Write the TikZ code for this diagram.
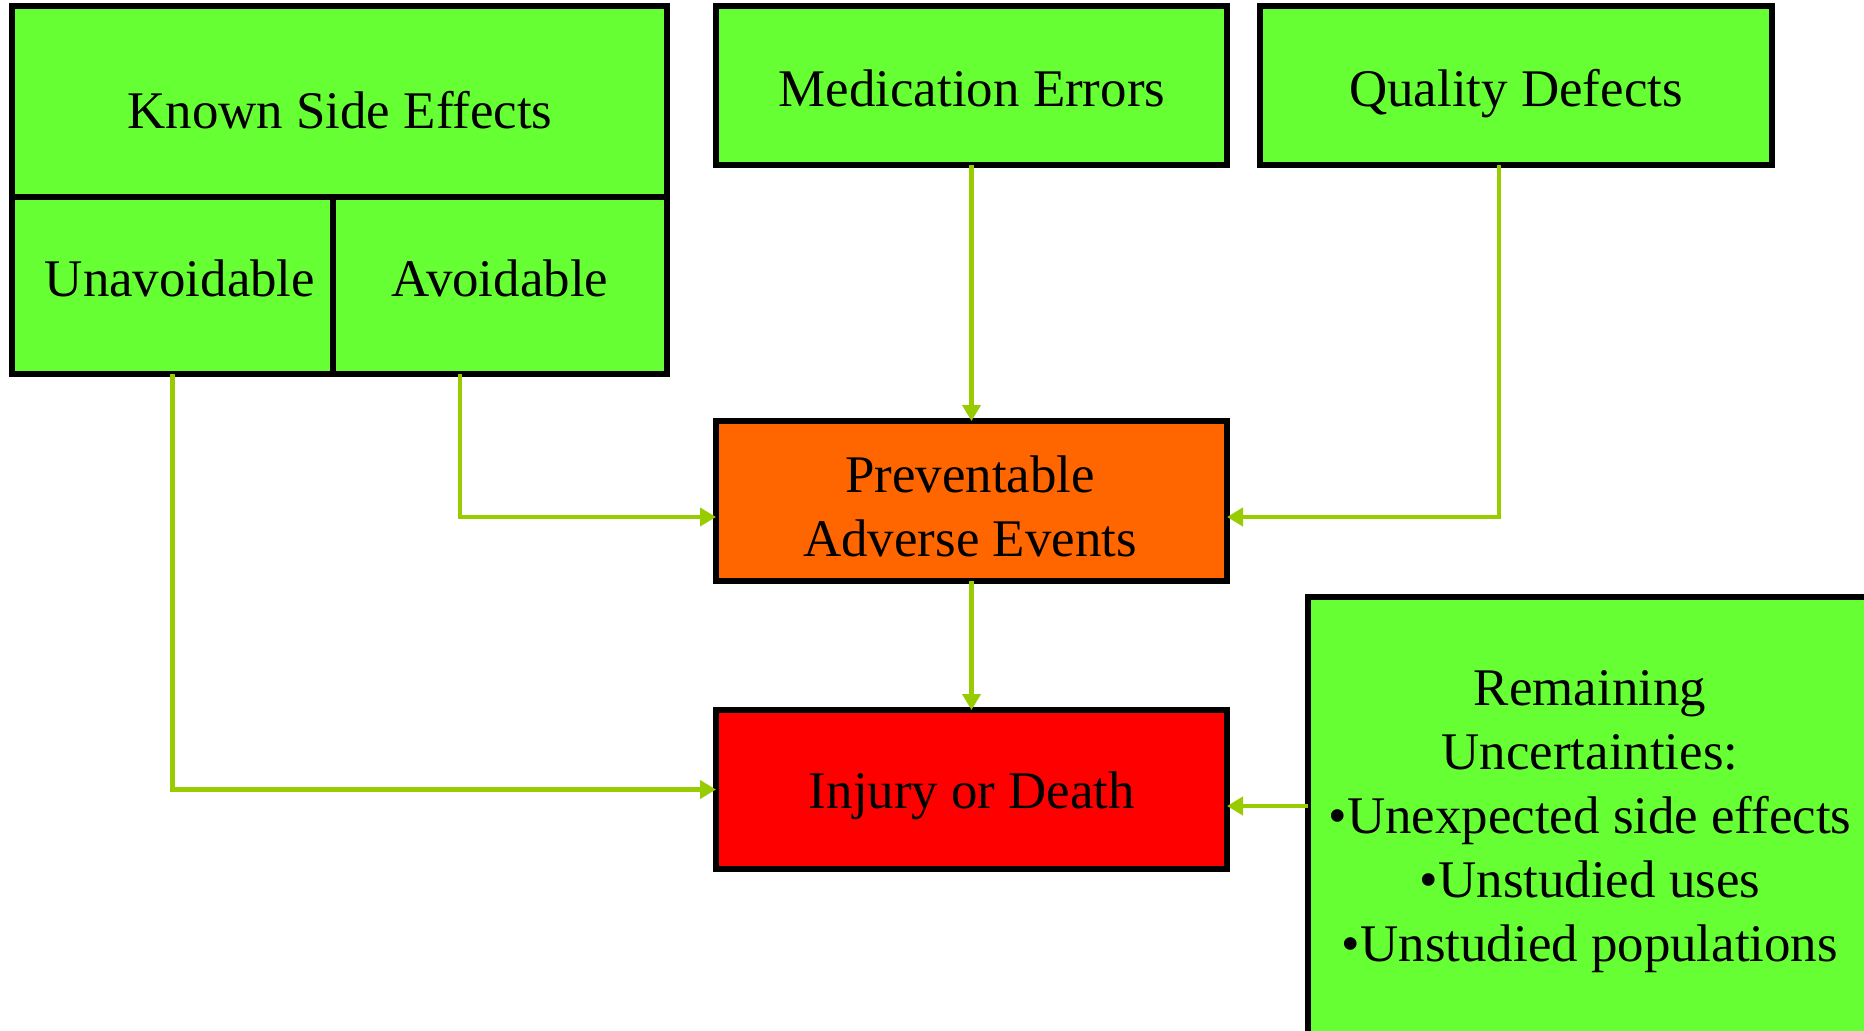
\documentclass[tikz,border=0pt]{standalone}
\usepackage{fontspec}
\setmainfont{Liberation Serif}
\usetikzlibrary{arrows.meta}
\definecolor{boxgreen}{HTML}{66FF33}
\definecolor{boxorange}{HTML}{FF6600}
\definecolor{boxred}{HTML}{FF0000}
\definecolor{linkgreen}{HTML}{99CC00}
\begin{document}
\begin{tikzpicture}[x=0.5pt,y=-0.5pt,
  box/.style={draw=black, line width=2.6pt, inner sep=0pt, outer sep=0pt},
  cell/.style={box, fill=boxgreen},
  lbl/.style={inner sep=0pt, font=\fontsize{26.45pt}{32pt}\selectfont, align=center},
  conn/.style={draw=linkgreen, line width=2.2pt, -{Triangle[length=8pt,width=9pt]}}]
  \fill[white] (0,0) rectangle (1864,1030);
  \useasboundingbox (0,0) rectangle (1864,1030);

  % Known side effects, split into two cells underneath
  \node[cell, minimum width=327.5pt, minimum height=95.5pt] (known) at (339.5,101.5) {};
  \node[cell, minimum width=160.5pt, minimum height=88.5pt] (unav) at (172.5,285.5) {};
  \node[cell, minimum width=167pt, minimum height=88.5pt] (avoid) at (500,285.5) {};

  % Other source boxes
  \node[cell, minimum width=255.5pt, minimum height=79.5pt] (med) at (971.5,85.5) {};
  \node[cell, minimum width=256pt, minimum height=79.5pt] (qual) at (1516,85.5) {};

  % Outcome boxes
  \node[box, fill=boxorange, minimum width=255.5pt, minimum height=80pt] (prev) at (971.5,501) {};
  \node[box, fill=boxred, minimum width=255.5pt, minimum height=79.5pt] (injury) at (971.5,789.5) {};

  % Remaining uncertainties
  \node[cell, minimum width=280pt, minimum height=218.5pt] (rem) at (1588,815.5) {};

  % Labels
  \node[lbl, anchor=base] (knownT) at (340,128) {Known Side Effects};
  \node[lbl, anchor=base] (unavT) at (180,296) {Unavoidable};
  \node[lbl, anchor=base] (avoidT) at (500,296) {Avoidable};
  \node[lbl, anchor=base] (medT) at (972,106) {Medication Errors};
  \node[lbl, anchor=base] (qualT) at (1516,106) {Quality Defects};
  \node[lbl] (prevT) at (970,506) {Preventable\\Adverse Events};
  \node[lbl, anchor=base] (injuryT) at (972,808) {Injury or Death};
  \node[lbl] (remT) at (1590,822) {Remaining\\Uncertainties:\\•Unexpected side effects\\•Unstudied uses\\•Unstudied populations};

  % Connector routing points
  \coordinate (avx) at (460,0);
  \coordinate (qx) at (1499,0);
  \coordinate (ry) at (0,806);

  % Connectors
  \draw[conn] (unav.south) |- (injury.west);
  \draw[conn] (avoid.south -| avx) |- ([yshift=-8pt]prev.west);
  \draw[conn] (med.south) -- (prev.north);
  \draw[conn] (qual.south -| qx) |- ([yshift=-8pt]prev.east);
  \draw[conn] (prev.south) -- (injury.north);
  \draw[conn] (rem.west |- ry) -- (injury.east |- ry);
\end{tikzpicture}
\end{document}
